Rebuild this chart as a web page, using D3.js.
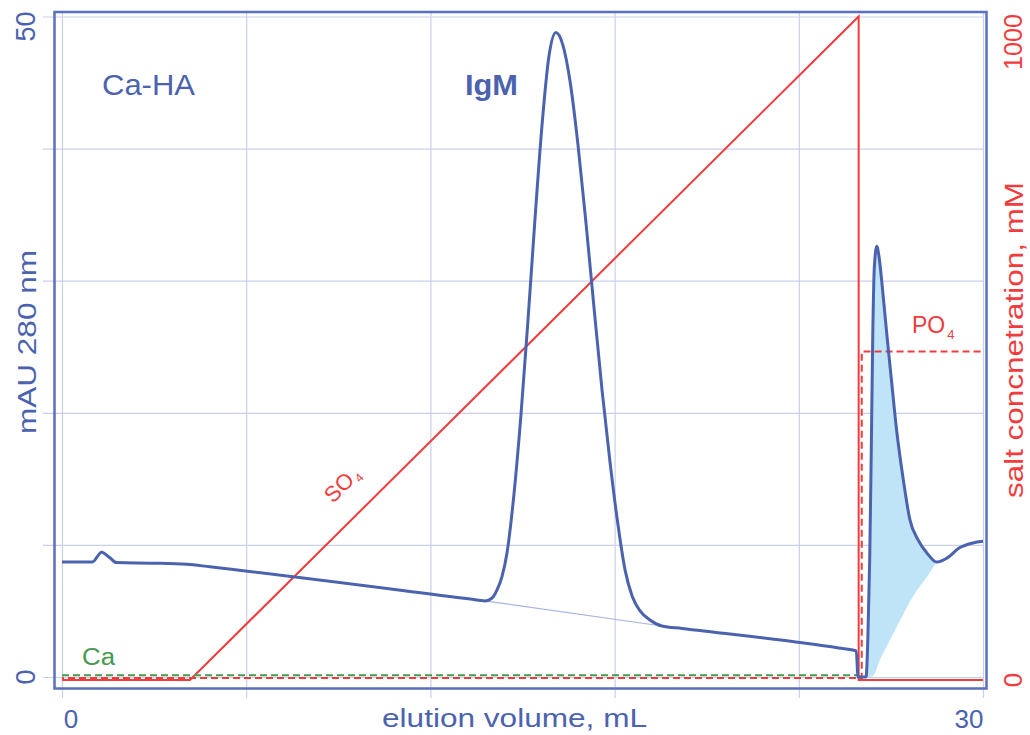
<!DOCTYPE html>
<html><head><meta charset="utf-8">
<script src="https://cdn.jsdelivr.net/npm/d3@7"></script>
<style>body{margin:0;background:#fff}svg{display:block}text{font-family:"Liberation Sans",Arial,sans-serif}</style>
</head><body>
<svg id="c" width="1030" height="735"></svg>
<script>
// ---- data ----
const chromVol = [0.00,0.99,1.29,1.56,1.78,2.96,4.06,4.82,13.30,13.78,14.01,14.17,14.33,14.50,14.72,14.95,15.18,15.41,15.64,15.86,16.09,16.32,16.55,16.81,17.07,17.33,17.59,17.85,18.11,18.34,18.57,18.83,19.15,19.54,20.20,25.30,25.87,25.93,26.19,26.25,26.31,26.36,26.41,26.46,26.54,26.62,26.70,26.86,27.03,27.19,27.40,27.62,27.88,28.17,28.49,28.82,29.25,29.67,30.00];
const chromAbs = [8.71,8.71,9.45,9.02,8.66,8.62,8.54,8.34,5.90,5.76,5.98,6.59,7.58,9.47,13.79,19.85,27.05,34.77,41.89,46.97,48.79,47.80,45.08,40.23,34.32,27.95,21.74,16.29,11.52,8.11,6.14,5.00,4.32,3.86,3.67,2.20,1.98,0.00,0.00,3.0,9.0,17.0,26.0,31.0,32.6,31.7,30.0,26.1,22.2,18.6,15.0,11.9,10.4,9.4,8.7,9.0,9.8,10.15,10.27];
const fillBaseVol = [26.19,26.42,26.64,26.97,27.30,27.72,28.18,28.49];
const fillBaseAbs = [0,0.1,1.3,2.8,4.3,6.1,7.6,8.7];
const igmBaseVol = [13.78,19.54];
const igmBaseAbs = [5.76,3.86];
const so4Vol = [0,4.17,25.95,25.95,30];
const so4Conc = [0,0,1000,0,0];
const po4Vol = [0,26.05,26.05,30];
const po4Conc = [3,3,495,495];
const caVol = [0,25.95];
const caConc = [7,7];
const xTicks = [0,6,12,18,24,30];
const yTicks = [0,10,20,30,40,50];
const xTickLabels = ["0","30"];
const yTickLabels = ["0","50"];
const rTickLabels = ["0","1000"];

// ---- drawing ----
const svg = d3.select("#c");
const x = d3.scaleLinear([0,30],[62,983]);
const y = d3.scaleLinear([0,50],[677,16.5]);
const yR = d3.scaleLinear([0,1000],[680,16.5]);
const BLUE="#4b63ae", FRAME="#5a70ba", RED="#f03c3c", GREEN="#47994f", GRID="#cbcfea";

// grid
svg.append("g").attr("transform","translate(0,698)")
  .call(d3.axisBottom(x).tickValues(xTicks).tickSize(-686).tickFormat(""))
  .call(g=>{g.select(".domain").remove();g.selectAll("line").attr("stroke",GRID).attr("stroke-width",1.2);});
svg.append("g").attr("transform","translate(43,0)")
  .call(d3.axisLeft(y).tickValues(yTicks).tickSize(-940).tickFormat(""))
  .call(g=>{g.select(".domain").remove();g.selectAll("line").attr("stroke",GRID).attr("stroke-width",1.2);});

const zip=(a,b)=>a.map((v,i)=>[v,b[i]]);
const chrom = zip(chromVol,chromAbs);
const lineA = d3.line().x(d=>x(d[0])).y(d=>y(d[1])).curve(d3.curveMonotoneX);
const lineLin = d3.line().x(d=>x(d[0])).y(d=>y(d[1]));
const lineR = d3.line().x(d=>x(d[0])).y(d=>yR(d[1]));

// fill under second peak
const upper = chrom.filter(d=>d[0]>=26.19 && d[0]<=28.49);
const lower = zip(fillBaseVol,fillBaseAbs).reverse();
const lowerPath = d3.line().x(d=>x(d[0])).y(d=>y(d[1])).curve(d3.curveCatmullRom)(lower);
svg.append("path").attr("d", lineA(upper) + lowerPath.replace(/^M/,"L") + "Z")
  .attr("fill","#bfe3f7").attr("stroke","none");

// thin baseline under IgM
svg.append("path").attr("d",lineLin(zip(igmBaseVol,igmBaseAbs)))
  .attr("fill","none").attr("stroke","#a9b5e0").attr("stroke-width",1.2);

// salts
svg.append("path").attr("d",lineR(zip(so4Vol,so4Conc)))
  .attr("fill","none").attr("stroke",RED).attr("stroke-width",2);
svg.append("path").attr("d",lineR(zip(caVol,caConc)))
  .attr("fill","none").attr("stroke",GREEN).attr("stroke-width",2).attr("stroke-dasharray","7,4");
svg.append("path").attr("d",lineR(zip(po4Vol,po4Conc)))
  .attr("fill","none").attr("stroke",RED).attr("stroke-width",2).attr("stroke-dasharray","7,4").attr("stroke-dashoffset",5);

// chromatogram
svg.append("path").attr("d",lineA(chrom))
  .attr("fill","none").attr("stroke",BLUE).attr("stroke-width",3).attr("stroke-linejoin","round");

// frame
svg.append("rect").attr("x",54.5).attr("y",12).attr("width",932).attr("height",676.5)
  .attr("fill","none").attr("stroke",FRAME).attr("stroke-width",2.5);

// tick labels
const lbl=(t,xx,yy,opt={})=>{
  const e=svg.append("text").attr("transform",`translate(${xx},${yy})`+(opt.rot?` rotate(${opt.rot})`:""))
    .attr("text-anchor",opt.anchor||"middle").attr("font-size",opt.size||26).attr("fill",opt.color||BLUE)
    .attr("font-weight",opt.bold?"bold":"normal").text(t);
  if(opt.len) e.attr("textLength",opt.len).attr("lengthAdjust","spacingAndGlyphs");
  if(opt.dy) e.attr("dy",opt.dy);
  return e;
};
lbl(xTickLabels[0], x(0)+9, 728, {size:26});
lbl(xTickLabels[1], x(30)-14, 728, {size:26});
lbl(yTickLabels[1], 35, y(50)+10, {size:27, rot:-90});
lbl(yTickLabels[0], 35, y(0), {size:27, rot:-90});
lbl(rTickLabels[1], 1022, 42, {size:26, rot:-90, color:RED, len:56});
lbl(rTickLabels[0], 1022, yR(0), {size:26, rot:-90, color:RED});

// axis titles
lbl("elution volume, mL", 382, 727, {anchor:"start", size:25, len:265});
lbl("mAU 280 nm", 36, 342, {size:26, rot:-90, len:184});
lbl("salt concnetration, mM", 1023, 340, {size:25, rot:-90, color:RED, len:316});

// annotations
lbl("Ca-HA", 102, 95, {anchor:"start", size:29, len:93});
lbl("IgM", 465, 95, {anchor:"start", size:29, bold:true, len:53});
lbl("Ca", 82, 665, {anchor:"start", size:23, color:GREEN, len:33});
const po = svg.append("text").attr("x",912).attr("y",333).attr("font-size",23).attr("fill",RED);
po.append("tspan").text("PO");
po.append("tspan").attr("font-size",13).attr("dx",2).attr("dy",6).text("4");
const so = svg.append("text").attr("transform","translate(333,504) rotate(-45)").attr("font-size",22).attr("fill",RED);
so.append("tspan").text("SO");
so.append("tspan").attr("font-size",12).attr("dx",2).attr("dy",4).text("4");
</script>
</body></html>
